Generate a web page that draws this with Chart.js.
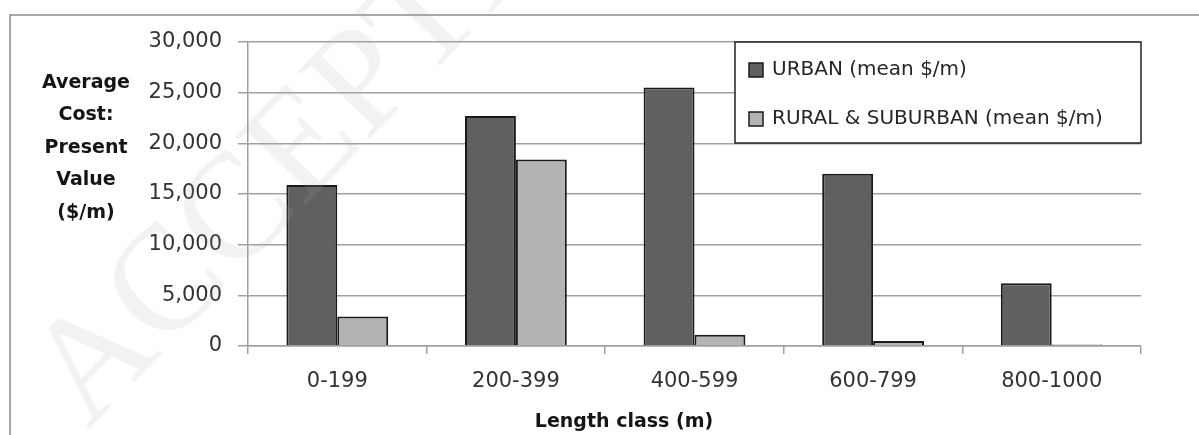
<!DOCTYPE html>
<html>
<head>
<meta charset="utf-8">
<title>Average cost by length class</title>
<script src="https://cdn.jsdelivr.net/npm/chart.js@4/dist/chart.umd.min.js"></script>
<style>
  html, body { margin: 0; padding: 0; background: #fff; }
  #wrap { width: 1199px; height: 435px; }
</style>
</head>
<body>
<div id="wrap"><canvas id="c" width="1199" height="435"></canvas></div>
<script>
// Length classes (m)
const categories = ['0-199', '200-399', '400-599', '600-799', '800-1000'];
// Mean present-value cost per metre
const urbanValues = [15900, 22700, 25500, 17000, 6200];
const ruralValues = [2900, 18400, 1100, 500, 150];
const seriesNames = ['URBAN (mean $/m)', 'RURAL & SUBURBAN (mean $/m)'];
const yTickValues = [0, 5000, 10000, 15000, 20000, 25000, 30000];
const yTitleLines = ['Average', 'Cost:', 'Present', 'Value', '($/m)'];
const xTitle = 'Length class (m)';
const watermark = 'ACCEPTED MANUSCRIPT';

const FONT = '"DejaVu Sans", sans-serif';
const GRID = '#a0a0a0';
const INK = '#1a1a1a';

// Frame, titles, boxed legend and the faint diagonal stamp
const decor = {
  id: 'decor',
  beforeDraw(chart) {
    const c = chart.ctx;
    c.save();
    c.fillStyle = '#fff';
    c.fillRect(0, 0, chart.width, chart.height);
    c.strokeStyle = '#8c8c8c';
    c.lineWidth = 1.5;
    c.beginPath();
    c.moveTo(10, chart.height + 2);
    c.lineTo(10, 15);
    c.lineTo(chart.width + 2, 15);
    c.stroke();
    c.restore();
  },
  afterDatasetsDraw(chart) {
    const c = chart.ctx;
    const a = chart.chartArea;
    const bx = 735, by = a.top, bw = a.right - 735, bh = 101;
    c.save();
    c.fillStyle = '#fff';
    c.fillRect(bx, by, bw, bh);
    c.strokeStyle = '#222';
    c.lineWidth = 1.5;
    c.strokeRect(bx, by, bw, bh);
    const rows = [by + 28, by + 77];
    chart.data.datasets.forEach((ds, i) => {
      const cy = rows[i];
      c.fillStyle = ds.backgroundColor;
      c.fillRect(bx + 14, cy - 7, 14, 14);
      c.strokeStyle = INK;
      c.lineWidth = 1.5;
      c.strokeRect(bx + 14, cy - 7, 14, 14);
      c.fillStyle = '#262626';
      c.font = '20px ' + FONT;
      c.textBaseline = 'middle';
      c.textAlign = 'left';
      c.fillText(ds.label, bx + 37, cy);
    });
    c.restore();
  },
  afterDraw(chart) {
    const c = chart.ctx;
    c.save();
    c.fillStyle = '#151515';
    c.font = 'bold 19px ' + FONT;
    c.textAlign = 'center';
    c.textBaseline = 'middle';
    yTitleLines.forEach((t, i) => c.fillText(t, 86, 83 + i * 32.4));
    c.fillText(xTitle, 624, 422);
    // light diagonal stamp across the figure
    c.translate(88, 430);
    c.rotate(-46 * Math.PI / 180);
    c.fillStyle = 'rgba(170,170,170,0.15)';
    c.font = '150px "Liberation Serif", serif';
    c.textAlign = 'left';
    c.textBaseline = 'alphabetic';
    c.fillText(watermark, 0, 0);
    c.restore();
  }
};

new Chart(document.getElementById('c'), {
  type: 'bar',
  data: {
    labels: categories,
    datasets: [
      {
        label: seriesNames[0],
        data: urbanValues,
        backgroundColor: '#606060',
        borderColor: INK,
        borderWidth: 2
      },
      {
        label: seriesNames[1],
        data: ruralValues,
        backgroundColor: '#b3b3b3',
        borderColor: INK,
        borderWidth: 2
      }
    ]
  },
  options: {
    responsive: false,
    devicePixelRatio: 1,
    animation: false,
    layout: { padding: { left: 0, top: 42, right: 58, bottom: 0 } },
    datasets: { bar: { categoryPercentage: 0.57, barPercentage: 1.0 } },
    plugins: {
      legend: { display: false },
      tooltip: { enabled: false }
    },
    scales: {
      x: {
        afterFit: (s) => { s.height = 89; },
        grid: { display: true, drawOnChartArea: false, drawTicks: true, tickLength: 8, color: GRID, lineWidth: 1.5 },
        border: { display: true, color: GRID, width: 1.5 },
        ticks: { color: '#333', font: { family: FONT, size: 21 }, padding: 15, maxRotation: 0 }
      },
      y: {
        min: 0,
        max: 30000,
        afterFit: (s) => { s.width = 248; },
        afterBuildTicks: (s) => { s.ticks = yTickValues.map(v => ({ value: v })); },
        grid: { color: GRID, lineWidth: 1.5, drawTicks: true, tickLength: 10 },
        border: { display: true, color: GRID, width: 1.5 },
        ticks: {
          color: '#333',
          font: { family: FONT, size: 21 },
          padding: 16,
          callback: (v) => v.toLocaleString('en-US')
        }
      }
    }
  },
  plugins: [decor]
});
</script>
</body>
</html>
